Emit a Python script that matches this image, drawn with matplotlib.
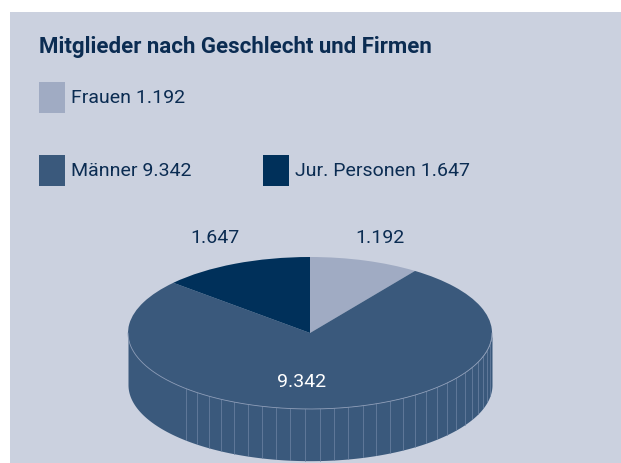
import numpy as np
import matplotlib
matplotlib.use("Agg")
import matplotlib.pyplot as plt
from matplotlib.patches import Rectangle

# ---- data ----
title = "Mitglieder nach Geschlecht und Firmen"
categories = ["Frauen", "Männer", "Jur. Personen"]
values = [1192, 9342, 1647]
value_labels = ["1.192", "9.342", "1.647"]

# ---- style ----
BG = "#cbd1df"
COLORS = ["#a0abc3", "#3a597c", "#00305a"]
TXT = "#0b2c52"
FONT = "Roboto"

W, H = 621, 463
fig = plt.figure(figsize=(W / 100, H / 100), dpi=100)
fig.patch.set_facecolor("white")
fig.patches.append(Rectangle((10 / W, 0), 1 - 10 / W, (H - 12) / H,
                             transform=fig.transFigure, facecolor=BG,
                             edgecolor="none", zorder=-5))

def fx(px):
    return px / W

def fy(py):
    return 1 - py / H

# title
fig.text(fx(39), fy(53), title, fontsize=16, fontweight="bold",
         color=TXT, family=FONT, va="baseline", ha="left")

# legend (manual, matching layout)
leg_pos = {0: (39, 82), 1: (39, 155), 2: (263, 155)}
for i, cat in enumerate(categories):
    x0, y0 = leg_pos[i]
    fig.patches.append(Rectangle((fx(x0), fy(y0 + 31)), 26 / W, 31 / H,
                                 transform=fig.transFigure,
                                 facecolor=COLORS[i], edgecolor="none", zorder=-4))
    fig.text(fx(x0 + 32), fy(y0 + 21), f"{cat} {value_labels[i]}",
             fontsize=14, color=TXT, family=FONT, va="baseline", ha="left")

# ---- pie axes (ellipse via non-equal aspect) ----
rx_px, ry_px = 182, 76
cx_px, cy_px = 310, 333
xl = (-1.1, 1.1)
yl = (-1.7, 1.3)
left = cx_px + xl[0] * rx_px
width = (xl[1] - xl[0]) * rx_px
top = cy_px - yl[1] * ry_px
height = (yl[1] - yl[0]) * ry_px
ax = fig.add_axes([left / W, 1 - (top + height) / H, width / W, height / H])
ax.set_facecolor("none")

depth = 0.68
t = np.linspace(np.pi, 2 * np.pi, 400)
xs = np.cos(t)
ax.fill_between(xs, np.sin(t) - depth, np.sin(t) + 0.01, color=COLORS[1],
                linewidth=0, zorder=1)

# faint facet lines on the side
for a in np.deg2rad(np.arange(227, 352, 4.6)):
    ax.plot([np.cos(a), np.cos(a)], [np.sin(a), np.sin(a) - depth],
            color="#7087a6", lw=0.6, alpha=0.8, zorder=1.5)

wedges, _ = ax.pie(values, colors=COLORS, startangle=90, counterclock=False,
                   radius=1, wedgeprops=dict(linewidth=0))
for w in wedges:
    w.set_zorder(2)
ax.plot(xs, np.sin(t), color="#8c9cb7", lw=0.6, zorder=3)

ax.set_aspect("auto")
ax.set_xlim(*xl)
ax.set_ylim(*yl)
ax.axis("off")

# value labels
ax.text(0.385, 1.25, value_labels[0], ha="center", va="center",
        fontsize=14, color=TXT, family=FONT)
ax.text(-0.52, 1.25, value_labels[2], ha="center", va="center",
        fontsize=14, color=TXT, family=FONT)
ax.text(-0.045, -0.64, value_labels[1], ha="center", va="center",
        fontsize=14, color="white", family=FONT)

fig.savefig("out.png", dpi=100)
